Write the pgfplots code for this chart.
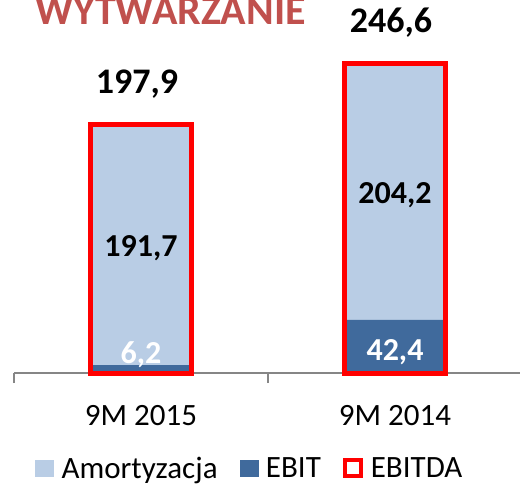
\documentclass[border=0pt]{standalone}
\usepackage{pgfplots}
\pgfplotsset{compat=1.18}
\usepackage{fontspec}
\setmainfont{Carlito}
\definecolor{amort}{HTML}{B9CDE5}
\definecolor{ebit}{HTML}{406A9C}
\definecolor{titlered}{HTML}{C0504D}
\definecolor{axgray}{HTML}{868686}
\begin{document}
\begin{tikzpicture}[x=1pt,y=1pt]
\useasboundingbox (0,0) rectangle (520,483);
\node[anchor=base west, inner sep=0pt, text=titlered, font=\fontsize{42}{42}\selectfont\bfseries] at (35,458) {WYTWARZANIE};
\pgfplotsset{
  common/.style={
    at={(14pt,110pt)}, anchor=south west, scale only axis,
    width=508pt, height=351pt,
    xmin=-0.5, xmax=1.5, ymin=0, ymax=280,
    clip=false,
  }
}
\begin{axis}[common,
  ybar stacked, bar width=101pt,
  axis x line*=bottom, axis y line=none,
  axis line style={axgray, line width=1.5pt},
  xtick={0,1}, xticklabels={9M 2015, 9M 2014},
  major tick length=0pt,
  minor xtick={-0.5,0.5,1.5},
  minor tick length=10pt,
  tick align=outside,
  minor tick style={axgray, line width=1.5pt},
  major tick style={draw=none},
  xticklabel style={font=\fontsize{31}{31}\selectfont, anchor=base, yshift=-52pt, inner sep=0pt},
]
\addplot[fill=ebit, draw=none] coordinates {(0,6.2) (1,42.4)};
\addplot[fill=amort, draw=none] coordinates {(0,191.7) (1,204.2)};
\end{axis}
\begin{axis}[common, hide axis,
  legend columns=3,
  legend style={at={(axis description cs:0.0413,-0.305)}, anchor=south west, draw=none, fill=none, inner sep=0pt,
    font=\fontsize{31}{31}\selectfont, nodes={inner sep=0pt},
    /tikz/every odd column/.append style={column sep=8pt},
    /tikz/every even column/.append style={column sep=22pt}},
  legend cell align=left,
]
\addlegendimage{legend image code/.code={\fill[amort] (0pt,-8pt) rectangle (18pt,8pt);}}
\addlegendentry{Amortyzacja}
\addlegendimage{legend image code/.code={\fill[ebit] (0pt,-8pt) rectangle (18pt,8pt);}}
\addlegendentry{EBIT}
\addplot[ybar, bar width=101pt, draw=red, line width=5pt, fill=none,
  nodes near coords={\pgfmathprintnumber[fixed, fixed zerofill, precision=1, use comma, assume math mode=true]{\pgfplotspointmeta}},
  point meta=y,
  every node near coord/.append style={font=\fontsize{36}{36}\selectfont\bfseries, text=black, anchor=base, yshift=31pt, xshift=-4pt, inner sep=0pt, text depth=0pt},
  legend image code/.code={\draw[red, line width=4pt] (2pt,-8pt) rectangle (18pt,8pt);}]
  coordinates {(0,197.9) (1,246.6)};
\addlegendentry{EBITDA}
\addplot[draw=none, mark=none, nodes near coords, point meta=explicit symbolic,
  every node near coord/.append style={anchor=center, font=\fontsize{32}{32}\selectfont\bfseries, text=black, text depth=0pt, inner sep=0pt}]
  coordinates {(0,101.3)[191,7] (1,143.6)[204,2]};
\addplot[draw=none, mark=none, nodes near coords, point meta=explicit symbolic,
  every node near coord/.append style={anchor=center, font=\fontsize{32}{32}\selectfont\bfseries, text=white, text depth=0pt, inner sep=0pt}]
  coordinates {(0,16)[6,2] (1,18.7)[42,4]};
\end{axis}
\end{tikzpicture}
\end{document}
